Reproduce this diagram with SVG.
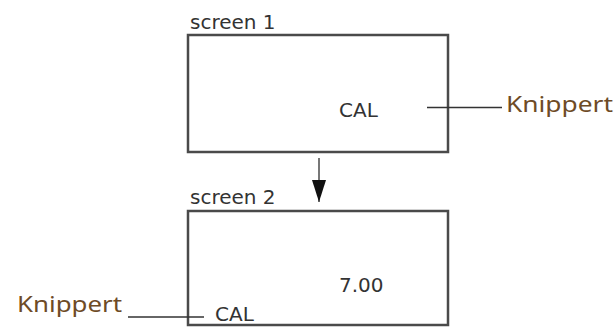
<svg xmlns="http://www.w3.org/2000/svg" width="616" height="327" viewBox="0 0 616 327">
<style>
.box{fill:none;stroke:#4a4a4a;stroke-width:2.5}
.lbl{font-family:"DejaVu Sans",Verdana,sans-serif;font-size:20px;fill:#333}
.kn{font-family:"Noto Sans","Open Sans",sans-serif;font-size:22px;fill:#6e4b26}
.ln{stroke:#333;stroke-width:1.5;fill:none}
</style>
<defs>
<marker id="ah" markerWidth="22" markerHeight="14" refX="22" refY="7" orient="auto" markerUnits="userSpaceOnUse" viewBox="0 0 22 14">
<path d="M0,0 L22,7 L0,14 Z" fill="#111"/>
</marker>
</defs>
<rect width="616" height="327" fill="#fff"/>
<g id="screen1">
<text class="lbl" x="190" y="29">screen 1</text>
<rect class="box" x="188" y="35" width="260" height="117"/>
<text class="lbl" x="339" y="117">CAL</text>
</g>
<g id="screen2">
<text class="lbl" x="190" y="204">screen 2</text>
<rect class="box" x="188" y="211" width="260" height="114"/>
<text class="lbl" x="339" y="292">7.00</text>
<text class="lbl" x="215" y="321">CAL</text>
</g>
<g id="knippert1">
<text class="kn" x="506" y="112" textLength="107" lengthAdjust="spacingAndGlyphs">Knippert</text>
</g>
<g id="knippert2">
<text class="kn" x="17" y="312" textLength="105" lengthAdjust="spacingAndGlyphs">Knippert</text>
</g>
<g id="connectors">
<line class="ln" x1="427" y1="107.5" x2="502" y2="107.5"/>
<line class="ln" x1="128" y1="317" x2="204" y2="317"/>
<line x1="319" y1="158" x2="319" y2="202" stroke="#777" stroke-width="2" marker-end="url(#ah)"/>
</g>
</svg>
